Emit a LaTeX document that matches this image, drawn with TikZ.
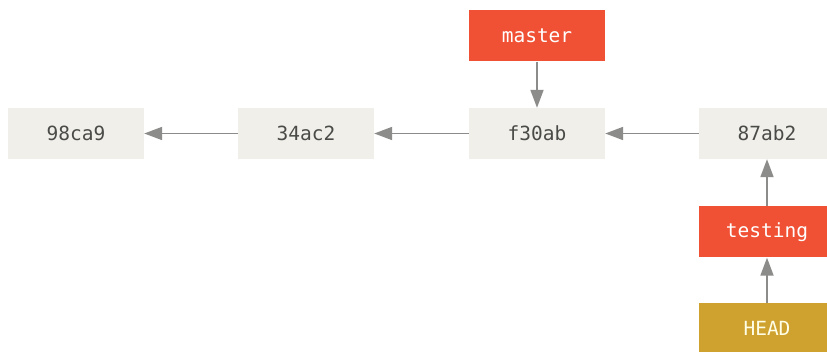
\documentclass[tikz,border=0pt]{standalone}
\usepackage{fontspec}
\setmonofont{DejaVu Sans Mono}
\usetikzlibrary{arrows.meta}
\definecolor{commitgray}{HTML}{F0EFE9}
\definecolor{textgray}{HTML}{4A4A48}
\definecolor{branchred}{HTML}{F05033}
\definecolor{headgold}{HTML}{CFA12E}
\definecolor{arrowgray}{HTML}{8C8C8A}
\tikzset{
  commit/.style={fill=commitgray, text=textgray, minimum width=136pt, minimum height=51pt,
    font=\ttfamily\fontsize{19.5}{22}\selectfont, inner sep=0pt},
  branch/.style={commit, fill=branchred, text=white},
  headref/.style={commit, fill=headgold, text=white!90!yellow},
  ptr/.style={draw=arrowgray, line width=1.8pt, -{Triangle[length=18pt,width=13pt]}}
}
\begin{document}
\begin{tikzpicture}[x=1pt,y=-1pt]
  \useasboundingbox[fill=white] (0,0) rectangle (827,352);
  \node[commit] (c98ca9) at (76,133.5) {98ca9};
  \node[commit] (c34ac2) at (306,133.5) {34ac2};
  \node[commit] (cf30ab) at (537,133.5) {f30ab};
  \node[commit] (c87ab2) at (767,133.5) {87ab2};
  \node[branch] (master) at (537,36) {master};
  \node[branch] (testing) at (767,232) {testing};
  \node[headref] (head) at (767,328.5) {HEAD};
  \draw[ptr] (c34ac2) -- (c98ca9);
  \draw[ptr] (cf30ab) -- (c34ac2);
  \draw[ptr] (c87ab2) -- (cf30ab);
  \draw[ptr] (master) -- (cf30ab);
  \draw[ptr] (head) -- (testing);
  \draw[ptr] (testing) -- (c87ab2);
\end{tikzpicture}
\end{document}
